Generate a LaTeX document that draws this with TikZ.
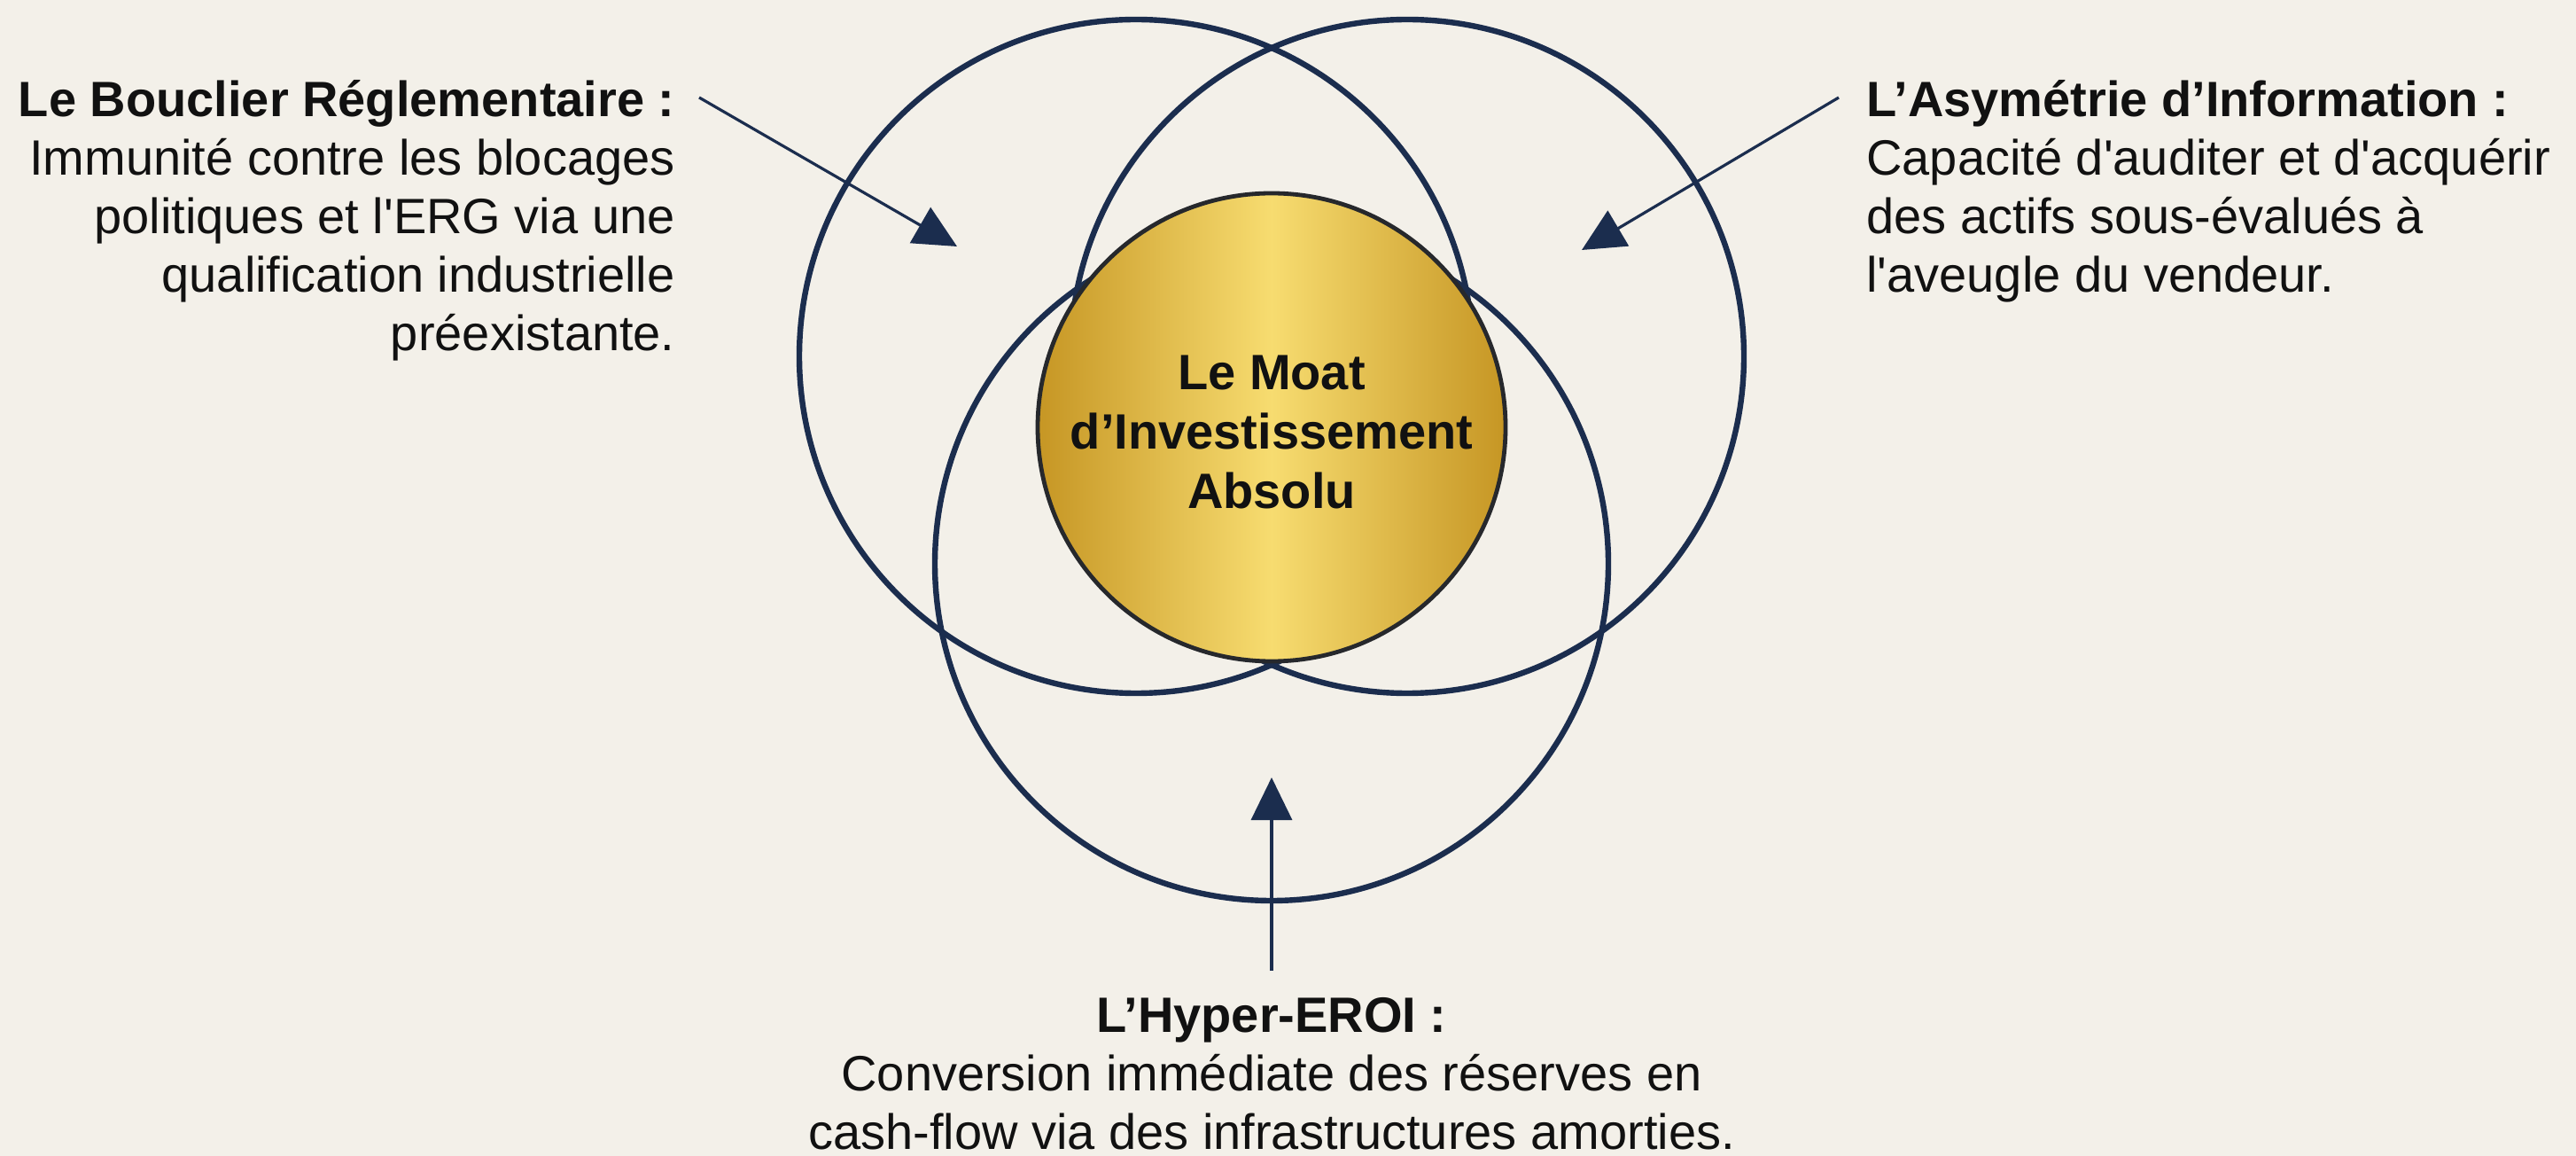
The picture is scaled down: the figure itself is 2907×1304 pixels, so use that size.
\documentclass[tikz,border=0pt]{standalone}
\usepackage{fontspec}
\setmainfont{Liberation Sans}[Ligatures=TeXOff]
\usetikzlibrary{arrows.meta}
\definecolor{bg}{RGB}{243,240,233}
\definecolor{navy}{RGB}{27,45,78}
\definecolor{golddark}{RGB}{198,150,36}
\definecolor{goldlight}{RGB}{247,220,112}
\definecolor{goldedge}{RGB}{38,40,44}
\definecolor{ink}{RGB}{17,17,17}
\tikzset{
  ring/.style={circle, draw=navy, line width=3.2pt, minimum size=380pt, inner sep=0pt},
  txt/.style={font=\fontsize{28}{33}\selectfont, text=ink, inner sep=0pt},
  ptr/.style={draw=navy, line width=1.6pt, -{Triangle[length=24pt,width=23pt]}},
}
\begin{document}
\begin{tikzpicture}[x=0.5pt,y=-0.5pt]
\fill[bg] (0,0) rectangle (2907,1304);
\useasboundingbox (0,0) rectangle (2907,1304);
% outer circles
\node[ring] (cl) at (1282,402) {};
\node[ring] (cr) at (1588,402) {};
\node[ring] (cb) at (1435,636) {};
% gold core
\node[circle, minimum size=264pt, inner sep=0pt, draw=goldedge, line width=2.4pt,
      left color=golddark, right color=golddark, middle color=goldlight] (moat) at (1435,482) {};
\node[txt, font=\fontsize{28}{33.5}\selectfont\bfseries, align=center, anchor=north] (moattxt) at (1435,401)
  {Le Moat\\d’Investissement\\Absolu};
% text blocks
\node[txt, align=right, anchor=north east] (lt) at (762,90)
  {{\bfseries Le Bouclier Réglementaire :}\\Immunité contre les blocages\\politiques et l'ERG via une\\qualification industrielle\\préexistante.};
\node[txt, align=left, anchor=north west] (rt) at (2106,90)
  {{\bfseries L’Asymétrie d’Information :}\\Capacité d'auditer et d'acquérir\\des actifs sous-évalués à\\l'aveugle du vendeur.};
\node[txt, align=center, anchor=north] (bt) at (1435,1125)
  {{\bfseries L’Hyper-EROI :}\\Conversion immédiate des réserves en\\cash-flow via des infrastructures amorties.};
% arrows
\coordinate (l0) at (789,110);
\coordinate (l1) at (1080,278);
\coordinate (r0) at (2075,110);
\coordinate (r1) at (1785,282);
\coordinate (b0) at (1435,1095);
\coordinate (b1) at (1435,877);
\draw[ptr] (l0) -- (l1);
\draw[ptr] (r0) -- (r1);
\draw[ptr] (b0) -- (b1);
\end{tikzpicture}
\end{document}
